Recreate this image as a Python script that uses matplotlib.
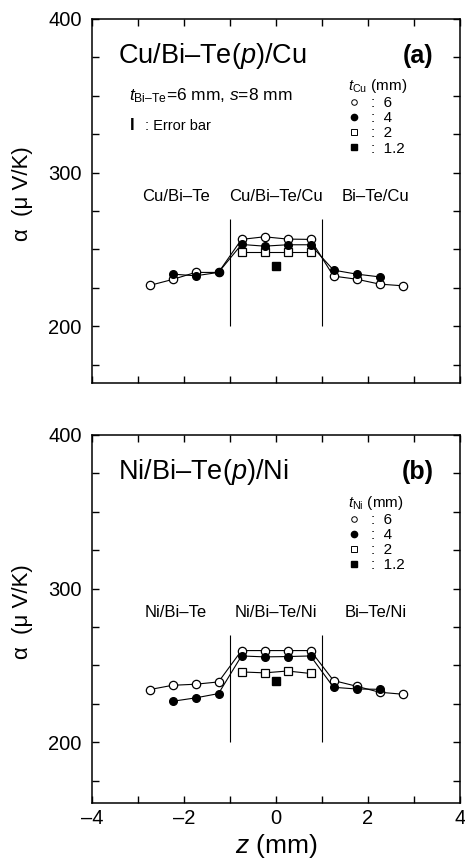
# -*- coding: utf-8 -*-
import matplotlib
matplotlib.use("Agg")
import matplotlib.pyplot as plt
from matplotlib.lines import Line2D
from matplotlib.ticker import MultipleLocator, FuncFormatter

plt.rcParams['font.family'] = ['Liberation Sans', 'DejaVu Sans']
plt.rcParams['mathtext.fontset'] = 'custom'
plt.rcParams['mathtext.rm'] = 'Liberation Sans'
plt.rcParams['mathtext.it'] = 'Liberation Sans:italic'
plt.rcParams['mathtext.bf'] = 'Liberation Sans:bold'

# positions z (mm) for each thickness
z_6 = [-2.75, -2.25, -1.75, -1.25, -0.75, -0.25, 0.25, 0.75, 1.25, 1.75, 2.25, 2.75]
z_4 = [-2.25, -1.75, -1.25, -0.75, -0.25, 0.25, 0.75, 1.25, 1.75, 2.25]
z_2 = [-0.75, -0.25, 0.25, 0.75]
z_12 = [0.0]

# (a) Cu electrodes, alpha (uV/K)
cu_6 = [226.5, 230.4, 235.0, 235.0, 256.5, 258.2, 256.7, 256.5, 232.6, 230.6, 227.4, 226.3]
cu_4 = [233.9, 232.8, 235.0, 253.2, 252.1, 253.0, 253.0, 236.5, 233.9, 232.1]
cu_2 = [248.0, 248.0, 248.0, 248.0]
cu_12 = [239.5]

# (b) Ni electrodes
ni_6 = [234.3, 237.1, 237.8, 239.3, 259.7, 259.7, 259.7, 259.7, 240.2, 236.5, 232.6, 231.3]
ni_4 = [226.7, 228.9, 231.7, 256.2, 255.6, 255.8, 256.2, 235.8, 234.7, 234.5]
ni_2 = [245.8, 245.2, 246.4, 244.8]
ni_12 = [240.0]

boundaries = [-1, 1]
thick_labels = [':  6', ':  4', ':  2', ':  1.2']

W, H = 465, 867
fig = plt.figure(figsize=(W / 100, H / 100), dpi=100)


def px_axes(l, t, r, b):
    return [l / W, 1 - b / H, (r - l) / W, (b - t) / H]


def panel(ax, d6, d4, d2, d12, metal, tag, ylo, show_x):
    ax.plot(z_6, d6, '-o', color='k', lw=0.8, ms=6, mfc='white', mec='k', mew=0.9, zorder=3)
    ax.plot(z_4, d4, '-o', color='k', lw=0.8, ms=5.5, mfc='k', mec='k', zorder=4)
    ax.plot(z_2, d2, '-s', color='k', lw=0.8, ms=5.5, mfc='white', mec='k', mew=0.9, zorder=3)
    ax.plot(z_12, d12, 's', color='k', ms=5.5, zorder=4)
    ax.vlines(boundaries, 200, 270, color='k', lw=0.8)

    ax.set_xlim(-4, 4)
    ax.set_ylim(ylo, 400)
    ax.xaxis.set_major_locator(MultipleLocator(2))
    ax.xaxis.set_minor_locator(MultipleLocator(1))
    ax.yaxis.set_major_locator(MultipleLocator(100))
    ax.yaxis.set_minor_locator(MultipleLocator(25))
    ax.tick_params(which='both', direction='in', top=True, right=True,
                   length=5, width=1.0, labelsize=14.5)
    ax.tick_params(axis='y', pad=7.5)
    ax.tick_params(axis='x', pad=4)
    ax.xaxis.set_major_formatter(FuncFormatter(lambda v, p: '%d' % v if v >= 0 else '\u2013%d' % -v))
    if not show_x:
        ax.tick_params(labelbottom=False)
    for s in ax.spines.values():
        s.set_linewidth(1.1)

    ax.set_ylabel('α  (μ V/K)', fontsize=16)
    ax.yaxis.set_label_coords(-0.16, 0.52)

    ax.text(-3.43, 371.5, metal + '/Bi–Te($p$)/' + metal, fontsize=19.5, va='baseline')
    ax.text(3.42, 371.5, tag, fontsize=18, fontweight='bold', ha='right', va='baseline')

    ax.text(-2.18, 281.4, metal + '/Bi–Te', fontsize=12, ha='center', va='baseline')
    ax.text(0.0, 281.4, metal + '/Bi–Te/' + metal, fontsize=12, ha='center', va='baseline')
    ax.text(2.17, 281.4, 'Bi–Te/' + metal, fontsize=12, ha='center', va='baseline')

    handles = [
        Line2D([], [], ls='none', marker='o', ms=4, mfc='white', mec='k', mew=0.7),
        Line2D([], [], ls='none', marker='o', ms=4.5, mfc='k', mec='k'),
        Line2D([], [], ls='none', marker='s', ms=4, mfc='white', mec='k', mew=0.7),
        Line2D([], [], ls='none', marker='s', ms=4.5, mfc='k', mec='k'),
    ]
    leg = ax.legend(handles, thick_labels, title='$t_{\\mathrm{' + metal + '}}$ (mm)',
                    loc='upper left', bbox_to_anchor=(0.695, 0.84), frameon=False,
                    fontsize=11, title_fontsize=11, alignment='left',
                    handlelength=0.8, handletextpad=0.7, labelspacing=0.07,
                    borderpad=0, borderaxespad=0)
    return leg


ax1 = fig.add_axes(px_axes(92, 19, 460, 383))
panel(ax1, cu_6, cu_4, cu_2, cu_12, 'Cu', '(a)', 163, False)
ax1.text(-3.2, 347, '$t_{\\mathrm{Bi–Te}}$=6 mm, $s$=8 mm', fontsize=12.5, va='baseline')
ax1.text(-3.17, 327.7, 'I', fontsize=12, fontweight='bold', va='baseline')
ax1.text(-2.85, 327.7, ': Error bar', fontsize=10.5, va='baseline')

ax2 = fig.add_axes(px_axes(92, 435, 460, 803))
panel(ax2, ni_6, ni_4, ni_2, ni_12, 'Ni', '(b)', 160.5, True)
ax2.set_xlabel('$z$ (mm)', fontsize=19, labelpad=3)

fig.savefig('out.png', dpi=100)
